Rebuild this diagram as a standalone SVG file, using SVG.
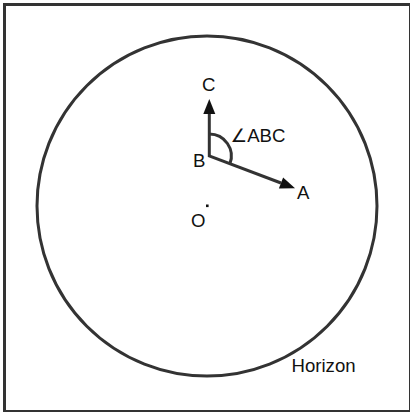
<svg xmlns="http://www.w3.org/2000/svg" width="410" height="412" viewBox="0 0 410 412">
  <style>
    .ln { fill: none; stroke: #333; stroke-width: 3; }
    .lbl { font-family: "Liberation Sans", "DejaVu Sans", sans-serif; font-size: 18.6px; fill: #111; }
  </style>
  <defs>
    <marker id="ah" markerUnits="userSpaceOnUse" markerWidth="16" markerHeight="14" refX="0" refY="6" orient="auto" overflow="visible">
      <path d="M0,0 L15,6 L0,12 z" fill="#111"/>
    </marker>
  </defs>
  <rect width="410" height="412" fill="#fff"/>
  <g id="frame">
    <rect x="4.5" y="4.5" width="406" height="407" class="ln"/>
  </g>
  <g id="horizon">
    <circle cx="207" cy="206" r="170" class="ln"/>
    <text x="291.5" y="372" class="lbl">Horizon</text>
  </g>
  <g id="O">
    <rect x="206" y="204.5" width="2.6" height="2.6" fill="#111"/>
    <text x="191" y="226.5" class="lbl">O</text>
  </g>
  <g id="B">
    <text x="193" y="167" class="lbl">B</text>
  </g>
  <g id="C">
    <text x="202" y="90.5" class="lbl">C</text>
  </g>
  <g id="A">
    <text x="297" y="199" class="lbl">A</text>
  </g>
  <g id="angle">
    <path d="M209.3,134 A22,22 0 0 1 229.9,163.8" class="ln"/>
    <text x="230.5" y="141.7" class="lbl">∠ABC</text>
  </g>
  <g id="connectors">
    <line x1="209.3" y1="157" x2="209.3" y2="114" class="ln" marker-end="url(#ah)"/>
    <line x1="208.5" y1="155.7" x2="281" y2="183" class="ln" marker-end="url(#ah)"/>
  </g>
</svg>
